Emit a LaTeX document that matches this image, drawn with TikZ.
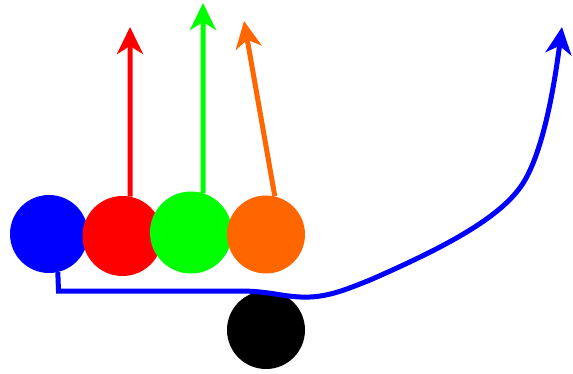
\documentclass[tikz,border=0pt]{standalone}
\usetikzlibrary{arrows.meta}
\definecolor{cblue}{HTML}{0000FF}
\definecolor{cred}{HTML}{FF0000}
\definecolor{cgreen}{HTML}{00FF00}
\definecolor{corange}{HTML}{FF6600}
\begin{document}
\begin{tikzpicture}[x=1pt,y=-1pt,
  player/.style={circle,inner sep=0pt,minimum size=#1,draw=none},
  route/.style={line width=5pt,-{Stealth[length=27pt,width=26pt,inset=8pt]}}]
\useasboundingbox (0,0) rectangle (573,373);
\node[player=78pt,fill=cblue] (blue) at (49,234) {};
\node[player=80pt,fill=cred] (red) at (122.5,236) {};
\node[player=82pt,fill=cgreen] (green) at (191,232.5) {};
\node[player=78pt,fill=corange] (orange) at (266,234.5) {};
\node[player=78pt,fill=black] (black) at (266,330) {};
\coordinate (redtip) at (130,27);
\coordinate (greentip) at (203,3);
\coordinate (orangetip) at (244,21);
\coordinate (bluetip) at (562,27);
\draw[route,cred] (red.79) -- (redtip);
\draw[route,cgreen] (green.73) -- (greentip);
\draw[route,corange] (orange.77) -- (orangetip);
\draw[route,cblue,line join=miter] (blue.-77) -- (58.5,291) -- (240,291)
  .. controls (272,291) and (285,298) .. (310,297)
  .. controls (330,296) and (345,290) .. (370,280)
  .. controls (450,245) and (505,215) .. (525,180)
  .. controls (545,145) and (555,80) .. (bluetip);
\end{tikzpicture}
\end{document}
